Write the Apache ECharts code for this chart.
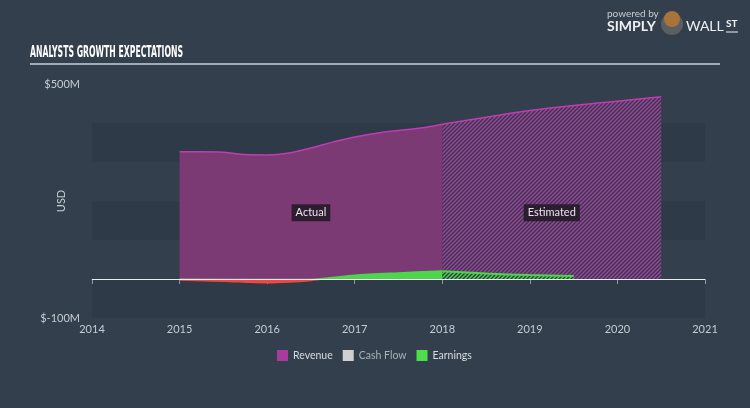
<!DOCTYPE html>
<html>
<head>
<meta charset="utf-8">
<script src="https://cdn.jsdelivr.net/npm/echarts@6/dist/echarts.min.js"></script>
<style>
html,body{margin:0;padding:0;background:#333f4d;}
#chart{width:750px;height:408px;}
</style>
</head>
<body>
<div id="chart"></div>
<script>
// ---- data ----
var xTicks = [2014, 2015, 2016, 2017, 2018, 2019, 2020, 2021];
var yTickLabels = {'500': '$500M', '-100': '$-100M'};
var revenueActual = [
  [2015, 326], [2015.25, 326], [2015.5, 325], [2015.75, 319], [2016, 318],
  [2016.25, 323], [2016.5, 336], [2016.75, 351], [2017, 364],
  [2017.25, 374], [2017.5, 381], [2017.75, 387], [2018, 397]
];
var revenueEstimated = [
  [2018, 397], [2018.5, 415], [2019, 432], [2019.5, 445], [2020, 456], [2020.5, 467]
];
var cashFlowActual = [
  [2015, 1], [2016, 0], [2017, 0], [2018, 0]
];
var earningsActual = [
  [2015, -2], [2015.5, -5], [2016, -9], [2016.25, -7], [2016.5, -3],
  [2016.75, 3], [2017, 9], [2017.5, 15], [2018, 20]
];
var earningsEstimated = [
  [2018, 20], [2018.5, 14], [2019, 10], [2019.5, 8]
];

function hatch(fg, bg) {
  var c = document.createElement('canvas');
  c.width = 4; c.height = 4;
  var g = c.getContext('2d');
  g.fillStyle = bg; g.fillRect(0, 0, 4, 4);
  g.strokeStyle = fg; g.lineWidth = 1.4;
  g.beginPath();
  g.moveTo(0, 4); g.lineTo(4, 0);
  g.moveTo(-1, 1); g.lineTo(1, -1);
  g.moveTo(3, 5); g.lineTo(5, 3);
  g.stroke();
  return c;
}

// title scale measurement
var titleText = 'ANALYSTS GROWTH EXPECTATIONS';
var titleFont = 'bold 16px "Liberation Sans Narrow", "DejaVu Sans Condensed", sans-serif';
var mc = document.createElement('canvas').getContext('2d');
mc.font = titleFont;
var tw = mc.measureText(titleText).width;
var titleScale = 153 / tw;

var chart = echarts.init(document.getElementById('chart'), null, {renderer: 'canvas'});
var axisTextColor = '#c5ccd3';
var fontFam = 'Lato, "Open Sans", sans-serif';

var option = {
  animation: false,
  backgroundColor: '#333f4d',
  textStyle: {fontFamily: fontFam},
  grid: {left: 92, right: 45, top: 84, bottom: 90},
  legend: {
    left: 272, top: 345,
    icon: 'rect', itemWidth: 11, itemHeight: 11, itemGap: 10,
    textStyle: {color: '#d8dce0', fontSize: 10.5, fontFamily: fontFam},
    data: [
      {name: 'Revenue', itemStyle: {color: '#a83c9e'}},
      {name: 'Cash Flow', itemStyle: {color: '#d0d0d0'}, textStyle: {color: '#a9b1b9'}},
      {name: 'Earnings', itemStyle: {color: '#4ddd4d'}}
    ],
    selectedMode: false
  },
  visualMap: {
    show: false, type: 'piecewise', seriesIndex: 3, dimension: 1,
    pieces: [{gte: -1000, lt: 0, color: '#f0483e'}, {gte: 0, lte: 1000, color: '#4cd64c'}]
  },
  xAxis: {
    type: 'value', min: 2014, max: 2021, interval: 1,
    axisLine: {show: true, lineStyle: {color: '#8d99a5', width: 1}},
    axisTick: {show: true, length: 5, lineStyle: {color: '#8d99a5'}},
    axisLabel: {color: axisTextColor, fontSize: 11, margin: 6, formatter: function (v) { return xTicks.indexOf(v) >= 0 ? String(v) : ''; }},
    splitLine: {show: false}
  },
  yAxis: {
    type: 'value', min: -100, max: 500, interval: 100,
    name: 'USD', nameLocation: 'middle', nameGap: 25, nameMoveOverlap: false,
    nameTextStyle: {color: axisTextColor, fontSize: 11},
    axisLine: {show: false}, axisTick: {show: false},
    axisLabel: {color: axisTextColor, fontSize: 11, margin: 12,
      formatter: function (v) { return yTickLabels[String(v)] || ''; }},
    splitLine: {show: false},
    splitArea: {show: true, areaStyle: {color: ['#2e3a47', 'rgba(0,0,0,0)']}}
  },
  series: [
    {
      name: 'Revenue', type: 'line', data: revenueActual, smooth: 0.4,
      showSymbol: false, symbol: 'none',
      lineStyle: {color: '#c03cb2', width: 1.5},
      itemStyle: {color: '#a83c9e'},
      areaStyle: {color: '#7b3a74', opacity: 1},
      markLine: {
        silent: true, symbol: 'none', label: {show: false},
        lineStyle: {color: '#e8ecef', width: 1, type: 'solid'},
        data: [{yAxis: 0}]
      },
      markPoint: {
        symbol: 'rect', symbolSize: 0,
        label: {
          show: true, position: 'inside', color: '#e6e6ea', fontSize: 11,
          backgroundColor: 'rgba(35,25,40,0.88)', padding: [3, 4, 3, 4]
        },
        data: [
          {coord: [2016.5, 170], label: {formatter: 'Actual'}},
          {coord: [2019.25, 170], label: {formatter: 'Estimated'}}
        ]
      }
    },
    {
      name: 'Revenue', type: 'line', data: revenueEstimated, smooth: 0.3,
      showSymbol: false, symbol: 'none',
      lineStyle: {color: '#c03cb2', width: 1.5},
      itemStyle: {color: '#a83c9e'},
      areaStyle: {color: {image: hatch('#a2429a', '#33394c'), repeat: 'repeat'}, opacity: 1}
    },
    {
      name: 'Cash Flow', type: 'line', data: cashFlowActual, smooth: 0.3,
      showSymbol: false, symbol: 'none',
      lineStyle: {color: '#9a9a8a', width: 1, opacity: 0.6},
      itemStyle: {color: '#d0d0d0'}
    },
    {
      name: 'Earnings', type: 'line', data: earningsActual, smooth: 0.3,
      showSymbol: false, symbol: 'none',
      lineStyle: {width: 2},
      itemStyle: {color: '#4ddd4d'},
      areaStyle: {opacity: 1}
    },
    {
      name: 'Earnings', type: 'line', data: earningsEstimated, smooth: 0.3,
      showSymbol: false, symbol: 'none',
      lineStyle: {color: '#4cd64c', width: 2},
      itemStyle: {color: '#4ddd4d'},
      areaStyle: {color: {image: hatch('#4cd64c', '#303a44'), repeat: 'repeat'}, opacity: 1}
    }
  ],
  graphic: [
    {
      type: 'text', left: 30, top: 45, scaleX: titleScale,
      style: {text: titleText, font: titleFont, fill: '#ffffff'}
    },
    {
      type: 'line', shape: {x1: 30, y1: 64, x2: 720, y2: 64},
      style: {stroke: '#c9d0d8', lineWidth: 1.5}
    },
    {
      type: 'text', left: 607, top: 9,
      style: {text: 'powered by', font: '10px ' + fontFam, fill: '#c8cdd2'}
    },
    {
      type: 'text', left: 607, top: 19,
      style: {text: 'SIMPLY', font: 'bold 14px ' + fontFam, fill: '#eef0f2'}
    },
    {
      type: 'circle', shape: {cx: 672, cy: 24, r: 11},
      style: {fill: '#5b5e63'}
    },
    {
      type: 'circle', shape: {cx: 672, cy: 19, r: 8},
      style: {fill: '#a9743a'}
    },
    {
      type: 'text', left: 686, top: 19,
      style: {text: 'WALL', font: '14px ' + fontFam, fill: '#eef0f2'}
    },
    {
      type: 'text', left: 726, top: 19,
      style: {text: 'ST', font: 'bold 10px ' + fontFam, fill: '#eef0f2'}
    },
    {
      type: 'line', shape: {x1: 726, y1: 32, x2: 738, y2: 32},
      style: {stroke: '#eef0f2', lineWidth: 1}
    }
  ]
};
chart.setOption(option);
</script>
</body>
</html>
